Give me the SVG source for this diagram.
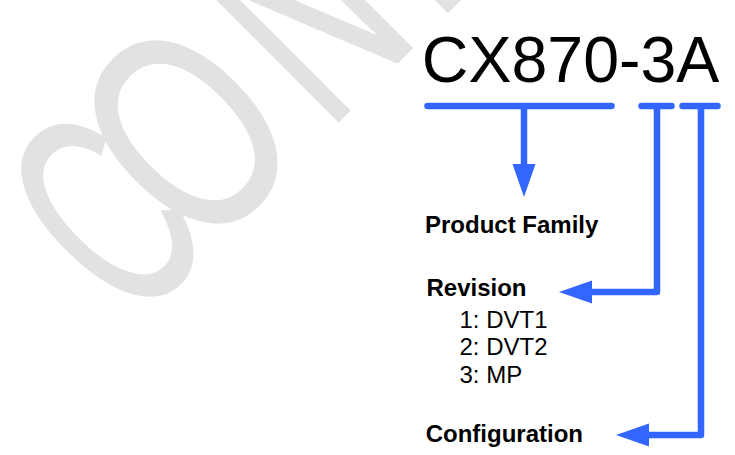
<svg xmlns="http://www.w3.org/2000/svg" width="735" height="455" viewBox="0 0 735 455">
  <style>
    .wm { font-family: "Liberation Sans", Arial, sans-serif; font-size: 290px; fill: #e2e2e2; stroke: #e2e2e2; stroke-width: 2.5; stroke-linejoin: round; }
    .title { font-family: "Liberation Sans", Arial, sans-serif; font-size: 64.5px; fill: #000; }
    .lbl { font-family: "Liberation Sans", Arial, sans-serif; font-size: 24px; font-weight: bold; fill: #000; }
    .item { font-family: "Liberation Sans", Arial, sans-serif; font-size: 24px; fill: #000; }
    .conn { fill: none; stroke: #3366ff; stroke-width: 6.5; stroke-linecap: round; stroke-linejoin: round; }
  </style>
  <defs>
    <marker id="arrow" markerUnits="userSpaceOnUse" markerWidth="36" markerHeight="26" viewBox="0 -13 36 26" refX="1" refY="0" orient="auto">
      <path d="M0,-11.5 L33,0 L0,11.5 Z" fill="#3366ff"/>
    </marker>
  </defs>
  <rect width="735" height="455" fill="#ffffff"/>
  <g id="watermark" transform="rotate(-45)">
    <text class="wm" transform="scale(0.585,1)" x="-236" y="325">C</text>
    <text class="wm" transform="scale(0.7,1)" x="-58" y="325">O</text>
    <text class="wm" transform="scale(0.64,1)" x="216.4" y="325">N</text>
    <text class="wm" transform="scale(0.64,1)" x="457.6" y="325">F</text>
  </g>
  <g id="title">
    <text class="title" x="421.8" y="82">CX870-3A</text>
  </g>
  <g id="connectors">
    <path class="conn" d="M427.5,106 H611.5 M524,106 V165" marker-end="url(#arrow)"/>
    <path class="conn" d="M641.5,106 H671.5 M657,106 V292 H591" marker-end="url(#arrow)"/>
    <path class="conn" d="M682.5,106 H717.5 M701,106 V435 H648" marker-end="url(#arrow)"/>
  </g>
  <g id="product-family">
    <text class="lbl" x="425" y="233">Product Family</text>
  </g>
  <g id="revision">
    <text class="lbl" x="426.5" y="296">Revision</text>
    <text class="item" x="459.5" y="327.5">1: DVT1</text>
    <text class="item" x="459.5" y="355">2: DVT2</text>
    <text class="item" x="459.5" y="382.5">3: MP</text>
  </g>
  <g id="configuration">
    <text class="lbl" x="425.7" y="441.7">Configuration</text>
  </g>
</svg>
